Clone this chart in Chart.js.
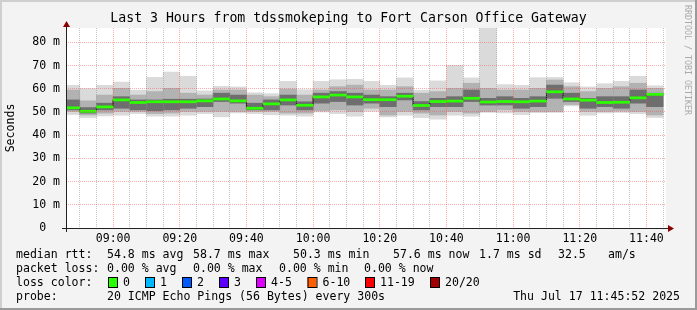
<!DOCTYPE html>
<html>
<head>
<meta charset="utf-8">
<script src="https://cdn.jsdelivr.net/npm/chart.js@4.4.0/dist/chart.umd.min.js"></script>
<style>
body { margin: 0; background: #f3f3f3; }
canvas { display: block; }
</style>
</head>
<body>
<canvas id="chart" width="697" height="310"></canvas>
<script>
// start of each 5 minute step
var slotStart = ['08:45','08:50','08:55','09:00','09:05','09:10','09:15','09:20','09:25','09:30','09:35','09:40',
  '09:45','09:50','09:55','10:00','10:05','10:10','10:15','10:20','10:25','10:30','10:35','10:40',
  '10:45','10:50','10:55','11:00','11:05','11:10','11:15','11:20','11:25','11:30','11:35','11:40'];

// smoke, in ms (outer = min/max ping, then two inner bands)
var pingMax = [61.5,60.1,61.5,62.9,59.4,64.9,67.2,65.4,59.1,61.1,60.8,58.3,57.9,63.2,59.6,63.2,63.9,64.1,
  63.2,61.5,64.7,59.4,63.4,70.1,64.7,90,61.8,61.5,64.8,64.9,62.6,60.8,62.2,63.2,65.4,61.3];
var hiMid = [59.5,54.8,57.3,60.2,57.3,58.8,60.2,58.1,57.3,59.5,59.5,57.3,56.6,59.9,57.3,59.5,60.9,61.6,
  59.5,59.5,60.9,58.1,58.8,60.2,62.4,60.2,59.5,59.5,60.2,63.8,60.9,58.8,60.2,60.9,62.4,60.2];
var hiDark = [55.2,51.9,53.8,56.6,55.2,55.2,55.5,55.5,55.6,58.1,57.3,53.8,55.2,57.3,54.4,58.1,58.8,58.1,
  57.3,56.6,58.1,54.5,55.9,56.6,59.5,55.9,56.6,55.9,56.6,61.6,58.1,55.9,56.6,56.6,59.5,58.1];
var median = [51.8,50.3,52.2,55.2,54.1,54.4,54.4,54.4,54.8,55.6,54.8,51.6,53.5,55.2,52.9,56.5,57.3,56.5,
  55.3,55.3,56.8,52.8,54.5,54.7,55.9,54.3,54.5,54.4,54.7,58.7,55.6,55.1,54.1,54.2,56.1,57.6];
var loDark = [50.9,49.5,50.9,51.6,50.9,50.5,50.9,51.6,52.3,54.5,53.8,50.9,50.9,53.0,50.9,53.8,54.5,53.0,
  53.8,52.3,55.2,50.9,52.3,52.3,54.5,53.0,53.0,51.6,52.3,55.9,54.5,51.6,52.3,51.6,53.8,52.3];
var loMid = [50.2,48.7,49.5,50.2,50.2,49.3,49.5,50.2,50.2,50.2,50.2,50.2,50.2,49.5,49.5,50.5,50.9,50.2,
  51.6,48.7,50.2,49.5,48.7,50.2,49.5,50.2,50.9,50.2,50.2,50.2,53.2,50.2,50.2,50.4,50.2,48.7];
var pingMin = [48.9,47.6,48.3,48.6,49.3,48.2,48.2,48.6,49.3,47.9,49.6,49.3,48.8,48.6,48.2,50.0,49.3,48.2,
  50.3,47.9,48.6,47.6,46.9,48.6,48.2,49.8,49.6,48.9,49.7,49.8,52.6,48.6,49.6,49.8,49.3,47.6];

var xTickLabels = ['09:00','09:20','09:40','10:00','10:20','10:40','11:00','11:20','11:40'];
var yTickValues = [0,5,10,15,20,25,30,35,40,45,50,55,60,65,70,75,80,85];
var yTickLabels = {0:'0  ',10:'10 m',20:'20 m',30:'30 m',40:'40 m',50:'50 m',60:'60 m',70:'70 m',80:'80 m'};

var lossLabels = ['0','1','2','3','4-5','6-10','11-19','20/20'];
var lossColors = ['#26ff00','#00b8ff','#0059ff','#5e00ff','#dd00ff','#ff5e00','#ff0000','#a10000'];

var titleText = 'Last 3 Hours from tdssmokeping to Fort Carson Office Gateway';

function toMin(s) {
  var p = s.split(':');
  return (+p[0] - 8) * 60 + (+p[1]);
}
var xStart = toMin('08:45') + 52 / 60;   // 08:45:52
var xEnd = xStart + 180;
var centres = slotStart.map(function(s) { return toMin(s) + 2.5; });
var xTicks = slotStart.slice(1).concat(['11:45']).map(toMin);
var majorX = xTickLabels.map(toMin);

function band(lo, hi) {
  return centres.map(function(c, i) { return {x: c, y: [lo[i], hi[i]]}; });
}

var mono = 'DejaVu Sans Mono';
var minorGrid = 'rgba(150,150,150,0.55)';
var majorGrid = 'rgba(255,70,70,0.45)';

var decor = {
  id: 'decor',
  beforeDraw: function(chart) {
    var ctx = chart.ctx, a = chart.chartArea;
    ctx.save();
    ctx.fillStyle = '#f3f3f3';
    ctx.fillRect(0, 0, chart.width, chart.height);
    ctx.fillStyle = '#ffffff';
    ctx.fillRect(a.left, a.top, a.right - a.left, a.bottom - a.top);
    ctx.restore();
  },
  afterDraw: function(chart) {
    var ctx = chart.ctx, a = chart.chartArea;
    ctx.save();
    // title
    ctx.fillStyle = '#000';
    ctx.font = '13.2px "' + mono + '"';
    ctx.textAlign = 'center';
    ctx.textBaseline = 'middle';
    ctx.fillText(titleText, 348.5, 19);
    ctx.textAlign = 'left';

    // axes with arrows
    ctx.strokeStyle = '#222';
    ctx.lineWidth = 1;
    ctx.beginPath();
    ctx.moveTo(a.left - 4, a.bottom + 0.5);
    ctx.lineTo(a.right + 6, a.bottom + 0.5);
    ctx.moveTo(a.left + 0.5, a.bottom + 4);
    ctx.lineTo(a.left + 0.5, a.top - 3);
    ctx.stroke();
    ctx.fillStyle = '#8b0000';
    ctx.beginPath();
    ctx.moveTo(a.right + 2, a.bottom - 3);
    ctx.lineTo(a.right + 8, a.bottom + 0.5);
    ctx.lineTo(a.right + 2, a.bottom + 4);
    ctx.fill();
    ctx.beginPath();
    ctx.moveTo(a.left - 3, a.top - 1);
    ctx.lineTo(a.left + 0.5, a.top - 7);
    ctx.lineTo(a.left + 4, a.top - 1);
    ctx.fill();

    // legend block
    ctx.fillStyle = '#000';
    ctx.font = '11.55px "' + mono + '"';
    var rows = [
      [254.5, [['median rtt:', 16], ['54.8 ms avg', 107], ['58.7 ms max', 193], ['50.3 ms min', 293],
               ['57.6 ms now', 393], ['1.7 ms sd', 479], ['32.5', 558], ['am/s', 608]]],
      [268.5, [['packet loss:', 16], ['0.00 % avg', 107], ['0.00 % max', 193], ['0.00 % min', 279],
               ['0.00 % now', 364]]],
      [282.5, [['loss color:', 16]]],
      [296.5, [['probe:', 16], ['20 ICMP Echo Pings (56 Bytes) every 300s', 107]]]
    ];
    rows.forEach(function(r) {
      r[1].forEach(function(t) { ctx.fillText(t[0], t[1], r[0]); });
    });
    var boxX = [108, 145, 182, 219, 256, 307.5, 365, 430];
    lossLabels.forEach(function(l, i) {
      ctx.fillStyle = lossColors[i];
      ctx.fillRect(boxX[i], 277.5, 9, 10);
      ctx.strokeStyle = '#000';
      ctx.strokeRect(boxX[i] + 0.5, 277.5, 9, 10);
      ctx.fillStyle = '#000';
      ctx.fillText(l, boxX[i] + 15, 282.5);
    });
    ctx.textAlign = 'right';
    ctx.fillText('Thu Jul 17 11:45:52 2025', 680, 296.5);

    // rrdtool credit
    ctx.translate(687.5, 5);
    ctx.rotate(Math.PI / 2);
    ctx.textAlign = 'left';
    ctx.fillStyle = '#aaaaaa';
    ctx.font = '8.3px "' + mono + '"';
    ctx.fillText('RRDTOOL / TOBI OETIKER', 0, 0);
    ctx.restore();

    // frame
    ctx.save();
    ctx.fillStyle = '#cfcfcf';
    ctx.fillRect(0, 0, chart.width, 2);
    ctx.fillRect(0, 0, 2, chart.height);
    ctx.fillStyle = '#9a9a9a';
    ctx.fillRect(0, chart.height - 2, chart.width, 2);
    ctx.fillRect(chart.width - 2, 0, 2, chart.height);
    ctx.restore();
  }
};

var ctx = document.getElementById('chart').getContext('2d');
var chart = new Chart(ctx, {
  type: 'bar',
  data: {
    datasets: [
      {label: 'smoke outer', data: band(pingMin, pingMax), backgroundColor: '#dadada', order: 6},
      {label: 'smoke mid', data: band(loMid, hiMid), backgroundColor: '#b2b2b2', order: 5},
      {label: 'smoke core', data: band(loDark, hiDark), backgroundColor: '#6e6e6e', order: 4},
      {type: 'line', label: 'median step', data: centres.map(function(c, i) { return {x: c, y: median[i]}; }),
       stepped: 'middle', borderColor: '#111', borderWidth: 1, pointRadius: 0, fill: false, order: 3},
      {label: 'median', data: band(median.map(function(m) { return m - 0.45; }), median.map(function(m) { return m + 0.45; })),
       backgroundColor: '#2bff00', order: 2}
    ]
  },
  options: {
    responsive: false,
    animation: false,
    events: [],
    grouped: false,
    barPercentage: 1,
    categoryPercentage: 1,
    borderWidth: 0,
    layout: {padding: {left: 0, right: 31, top: 28, bottom: 62}},
    plugins: {
      legend: {display: false},
      tooltip: {enabled: false},
      title: {display: false}
    },
    scales: {
      x: {
        type: 'linear',
        min: xStart,
        max: xEnd,
        offset: false,
        afterBuildTicks: function(axis) { axis.ticks = xTicks.map(function(v) { return {value: v}; }); },
        afterFit: function(axis) { axis.height = 20; },
        grid: {
          offset: false, drawTicks: false, z: 1,
          color: function(c) { return majorX.indexOf(c.tick.value) >= 0 ? majorGrid : minorGrid; }
        },
        border: {display: false, dash: [1, 1]},
        ticks: {
          autoSkip: false, maxRotation: 0, padding: 4, color: '#000',
          font: {family: mono, size: 11.55},
          callback: function(v) {
            var i = majorX.indexOf(v);
            return i >= 0 ? xTickLabels[i] : '';
          }
        }
      },
      y: {
        min: 0,
        max: 86.2,
        afterBuildTicks: function(axis) { axis.ticks = yTickValues.map(function(v) { return {value: v}; }); },
        afterFit: function(axis) { axis.width = 66; },
        grid: {
          drawTicks: false, z: 1,
          color: function(c) { return yTickLabels[c.tick.value] ? majorGrid : minorGrid; }
        },
        border: {display: false, dash: [1, 1]},
        ticks: {
          padding: 6, color: '#000',
          font: {family: mono, size: 11.55},
          callback: function(v) { return yTickLabels[v] || ''; }
        },
        title: {
          display: true, text: 'Seconds', color: '#000',
          font: {family: mono, size: 11.55, lineHeight: 1.2},
          padding: {top: 4, bottom: 0}
        }
      }
    }
  },
  plugins: [decor]
});
</script>
</body>
</html>
